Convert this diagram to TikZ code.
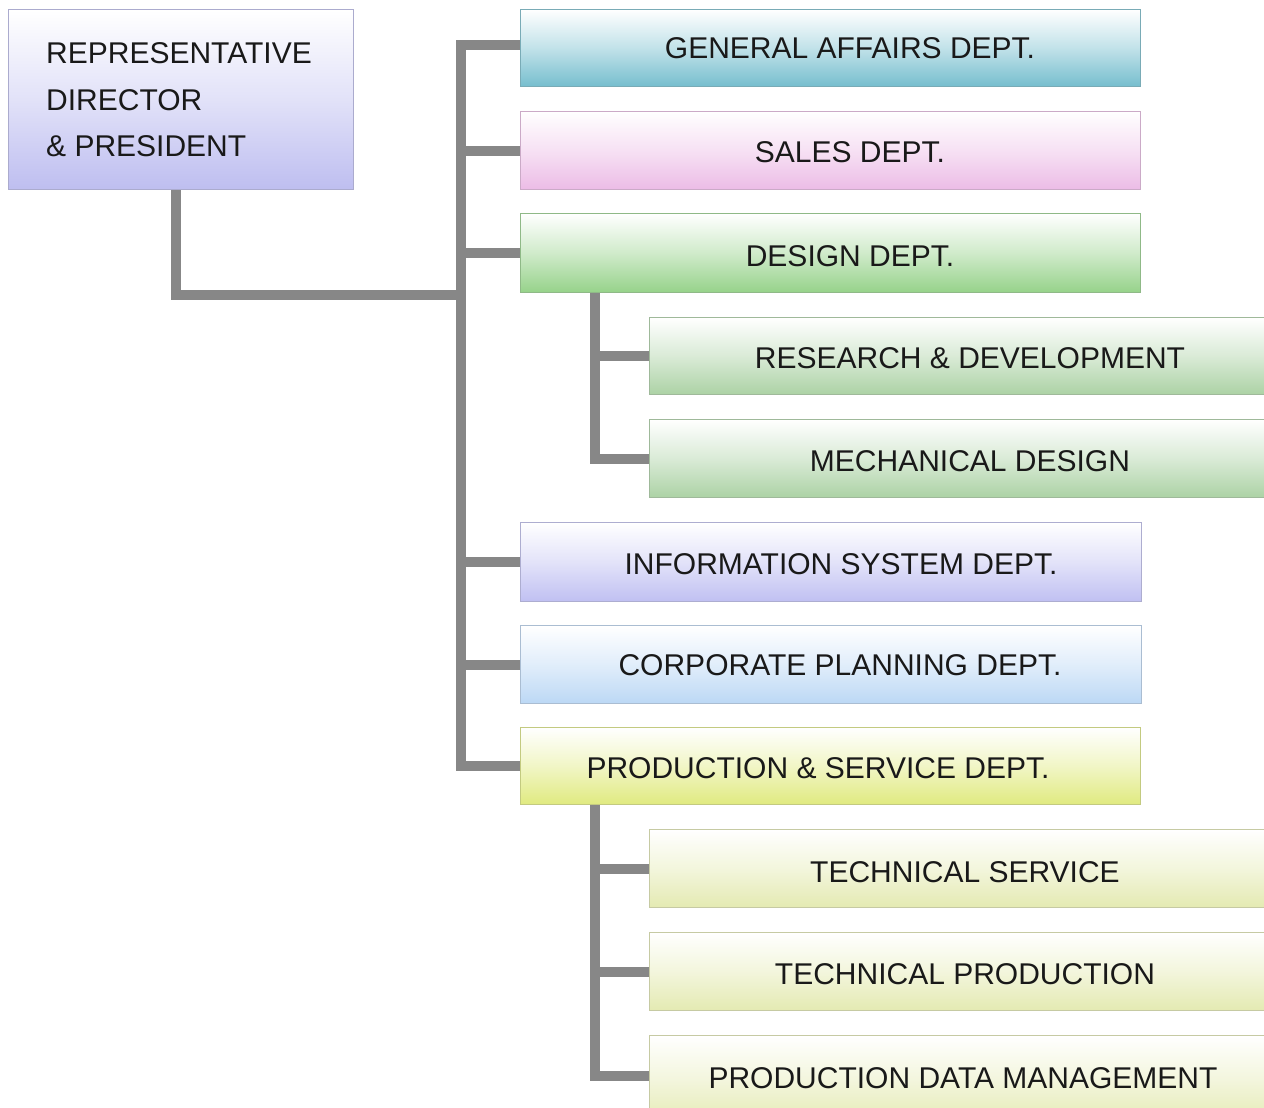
\documentclass[tikz,border=0pt]{standalone}
\usepackage{fontspec}
\setmainfont{Liberation Sans}
\begin{document}
\begin{tikzpicture}[x=1pt,y=-1pt,
  box/.style={rectangle, draw=#1!70!gray, line width=1pt, top color=white, bottom color=#1, middle color=#1!45!white, anchor=north west, inner sep=0pt},
  lab/.style={font=\fontsize{30}{36}\selectfont, text=black!90, inner sep=0pt},
  conn/.style={draw=black!47, line width=10pt, line join=miter, line cap=butt}]
\useasboundingbox (0,0) rectangle (1264,1108);
\clip (0,0) rectangle (1264,1108);
\definecolor{cpres}{RGB}{190,190,240}
\definecolor{cga}{RGB}{118,190,206}
\definecolor{csales}{RGB}{236,188,230}
\definecolor{cdes}{RGB}{150,210,138}
\definecolor{csubg}{RGB}{172,210,165}
\definecolor{cinfo}{RGB}{192,192,242}
\definecolor{ccorp}{RGB}{188,216,245}
\definecolor{cprod}{RGB}{224,234,128}
\definecolor{csuby}{RGB}{228,234,178}
% boxes
\node[box=cpres, minimum width=345, minimum height=180] (pres) at (8,9) {};
\node[box=cga, minimum width=620, minimum height=77] (ga) at (520,9) {};
\node[box=csales, minimum width=620, minimum height=78] (sales) at (520,111) {};
\node[box=cdes, minimum width=620, minimum height=79] (des) at (520,213) {};
\node[box=csubg, minimum width=625, minimum height=77] (rd) at (649,317) {};
\node[box=csubg, minimum width=625, minimum height=78] (md) at (649,419) {};
\node[box=cinfo, minimum width=621, minimum height=79] (info) at (520,522) {};
\node[box=ccorp, minimum width=621, minimum height=78] (corp) at (520,625) {};
\node[box=cprod, minimum width=620, minimum height=77] (prod) at (520,727) {};
\node[box=csuby, minimum width=625, minimum height=78] (ts) at (649,829) {};
\node[box=csuby, minimum width=625, minimum height=78] (tp) at (649,932) {};
\node[box=csuby, minimum width=625, minimum height=90] (pdm) at (649,1035) {};
% labels
\node[lab, anchor=west] (pres-t1) at (46,53) {REPRESENTATIVE};
\node[lab, anchor=west] (pres-t2) at (46,100) {DIRECTOR};
\node[lab, anchor=west] (pres-t3) at (46,146) {\& PRESIDENT};
\node[lab] (ga-t) at (850,48) {GENERAL AFFAIRS DEPT.};
\node[lab] (sales-t) at (850,152) {SALES DEPT.};
\node[lab] (des-t) at (850,256) {DESIGN DEPT.};
\node[lab] (rd-t) at (970,358) {RESEARCH \& DEVELOPMENT};
\node[lab] (md-t) at (970,461) {MECHANICAL DESIGN};
\node[lab] (info-t) at (841,564) {INFORMATION SYSTEM DEPT.};
\node[lab] (corp-t) at (840,665) {CORPORATE PLANNING DEPT.};
\node[lab] (prod-t) at (818,768) {PRODUCTION \& SERVICE DEPT.};
\node[lab] (ts-t) at (965,872) {TECHNICAL SERVICE};
\node[lab] (tp-t) at (965,974) {TECHNICAL PRODUCTION};
\node[lab] (pdm-t) at (963,1078) {PRODUCTION DATA MANAGEMENT};
% connectors
\coordinate (trunk) at (461,295);
\coordinate (dtr) at (595,0);
\draw[conn] ([xshift=-5.5pt]pres.south) |- (trunk);
\draw[conn] ([yshift=2.5pt]ga.west) -| (trunk |- prod.west) -- (prod.west);
\draw[conn] (sales.west) -- (sales.west -| trunk);
\draw[conn] (des.west) -- (des.west -| trunk);
\draw[conn] (info.west) -- (info.west -| trunk);
\draw[conn] (corp.west) -- (corp.west -| trunk);
\draw[conn] (des.south -| dtr) |- (md.west);
\draw[conn] (rd.west) -- (rd.west -| dtr);
\draw[conn] (prod.south -| dtr) |- ([yshift=5pt]pdm.west);
\draw[conn] (ts.west) -- (ts.west -| dtr);
\draw[conn] (tp.west) -- (tp.west -| dtr);
\end{tikzpicture}
\end{document}
